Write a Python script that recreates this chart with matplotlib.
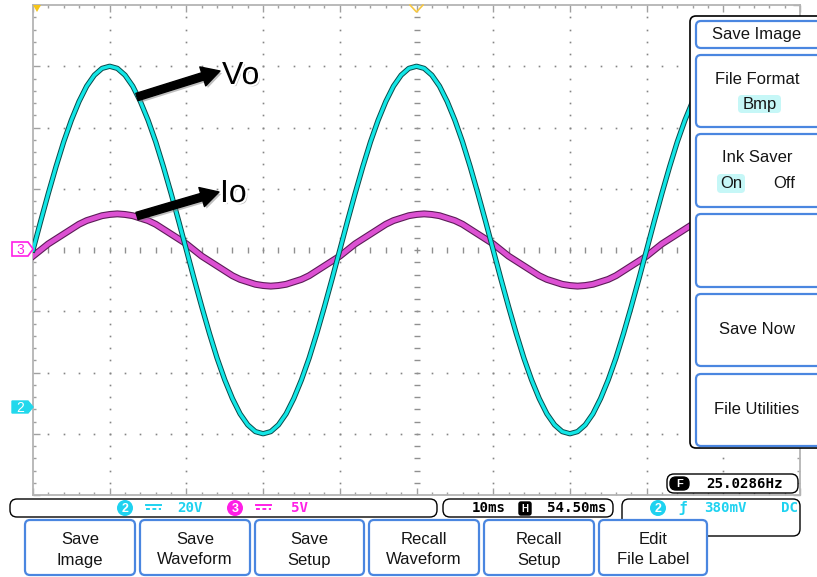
import numpy as np
import matplotlib
matplotlib.use("Agg")
import matplotlib.pyplot as plt
from matplotlib.patches import FancyBboxPatch, Polygon, Circle
import matplotlib.patheffects as pe

plt.rcParams['font.family'] = ['Liberation Sans', 'DejaVu Sans']

# scope settings
time_per_div = 10      # ms
ch2_per_div = 20       # V
ch3_per_div = 5        # V
freq_label = "25.0286Hz"
delay_label = "54.50ms"
trig_label = "380mV"

# samples, every 1 ms
t_ms = list(range(0, 101))
vo = [0, 9.4, 18.5, 27.2, 35.3, 42.4, 48.5, 53.5, 57.1, 59.3,
      60, 59.3, 57.1, 53.5, 48.5, 42.4, 35.3, 27.2, 18.5, 9.4,
      0, -9.4, -18.5, -27.2, -35.3, -42.4, -48.5, -53.5, -57.1, -59.3,
      -60, -59.3, -57.1, -53.5, -48.5, -42.4, -35.3, -27.2, -18.5, -9.4,
      0, 9.4, 18.5, 27.2, 35.3, 42.4, 48.5, 53.5, 57.1, 59.3,
      60, 59.3, 57.1, 53.5, 48.5, 42.4, 35.3, 27.2, 18.5, 9.4,
      0, -9.4, -18.5, -27.2, -35.3, -42.4, -48.5, -53.5, -57.1, -59.3,
      -60, -59.3, -57.1, -53.5, -48.5, -42.4, -35.3, -27.2, -18.5, -9.4,
      0, 9.4, 18.5, 27.2, 35.3, 42.4, 48.5, 53.5, 57.1, 59.3,
      60, 59.3, 57.1, 53.5, 48.5, 42.4, 35.3, 27.2, 18.5, 9.4,
      0]
io = [-0.5, 0, 0.5, 0.9, 1.3, 1.7, 2.1, 2.4, 2.6, 2.8,
      2.9, 2.95, 2.9, 2.8, 2.6, 2.4, 2.1, 1.7, 1.3, 0.9,
      0.5, 0, -0.5, -0.9, -1.3, -1.7, -2.1, -2.4, -2.6, -2.8,
      -2.9, -2.95, -2.9, -2.8, -2.6, -2.4, -2.1, -1.7, -1.3, -0.9,
      -0.5, 0, 0.5, 0.9, 1.3, 1.7, 2.1, 2.4, 2.6, 2.8,
      2.9, 2.95, 2.9, 2.8, 2.6, 2.4, 2.1, 1.7, 1.3, 0.9,
      0.5, 0, -0.5, -0.9, -1.3, -1.7, -2.1, -2.4, -2.6, -2.8,
      -2.9, -2.95, -2.9, -2.8, -2.6, -2.4, -2.1, -1.7, -1.3, -0.9,
      -0.5, 0, 0.5, 0.9, 1.3, 1.7, 2.1, 2.4, 2.6, 2.8,
      2.9, 2.95, 2.9, 2.8, 2.6, 2.4, 2.1, 1.7, 1.3, 0.9,
      0.5]

side_menu = ["Save Image", "File Format", "Ink Saver", "", "Save Now", "File Utilities"]
bottom_buttons = [("Save", "Image"), ("Save", "Waveform"), ("Save", "Setup"),
                  ("Recall", "Waveform"), ("Recall", "Setup"), ("Edit", "File Label")]

CYAN = '#12e6e6'
CYAN_TXT = '#1ed2f0'
MAG = '#dc50d2'
MAG_TXT = '#ff1fe6'
BLUE = '#4a86e0'
TXT = '#151515'

W, H = 817, 577
fig = plt.figure(figsize=(W / 100, H / 100), dpi=100)

# ---- scope screen ----
ax = fig.add_axes([33 / W, 1 - 495 / H, 767 / W, 490 / H])
ax.set_xlim(0, 10 * time_per_div)
ax.set_ylim(-4, 4)
for s in ax.spines.values():
    s.set_color('#b4b4b4')
    s.set_linewidth(1.3)
ax.set_xticks(np.arange(0, 101, 10))
ax.set_xticks(np.arange(0, 101, 2), minor=True)
ax.set_yticks(np.arange(-4, 4.1, 1))
ax.set_yticks(np.arange(-4, 4.01, 0.2), minor=True)
ax.tick_params(which='both', direction='in', top=True, right=True,
               labelbottom=False, labelleft=False, color='#a0a0a0')
ax.tick_params(which='major', length=5, width=1)
ax.tick_params(which='minor', length=2.5, width=1)

# dotted graticule
gx, gy = [], []
for xv in range(10, 100, 10):
    if xv == 50:
        continue
    for yv in np.arange(-3.8, 3.9, 0.2):
        gx.append(xv); gy.append(yv)
for yv in range(-3, 4):
    if yv == 0:
        continue
    for xv in range(2, 100, 2):
        gx.append(xv); gy.append(yv)
ax.plot(gx, gy, ls='none', marker='s', ms=1.2, color='#858585', mec='none', zorder=1)
# center cross
cy = np.arange(-3.8, 3.9, 0.2)
ax.plot(np.full(len(cy), 50), cy, ls='none', marker='_', ms=4, mew=1, color='#909090', zorder=1)
cx = np.arange(2, 100, 2)
ax.plot(cx, np.zeros(len(cx)), ls='none', marker='|', ms=4, mew=1, color='#909090', zorder=1)

io_div = np.array(io) / ch3_per_div
vo_div = np.array(vo) / ch2_per_div
ax.plot(t_ms, io_div, color='#5c1c58', lw=5.0, zorder=3)
ax.plot(t_ms, io_div, color=MAG, lw=3.4, zorder=3)
ax.plot(t_ms, vo_div, color='#0a4a4a', lw=3.8, zorder=4)
ax.plot(t_ms, vo_div, color=CYAN, lw=2.4, zorder=4)

# ---- overlay in pixel coordinates ----
ov = fig.add_axes([0, 0, 1, 1])
ov.set_xlim(0, W)
ov.set_ylim(H, 0)
ov.axis('off')
ov.set_zorder(3)


def rbox(x0, y0, x1, y1, ec='black', fc='white', lw=1.0, r=5, z=2):
    p = FancyBboxPatch((x0, y0), x1 - x0, y1 - y0,
                       boxstyle=f"round,pad=0,rounding_size={r}",
                       ec=ec, fc=fc, lw=lw, zorder=z)
    ov.add_patch(p)
    return p


# trigger markers
ov.add_patch(Polygon([(33, 5), (41, 5), (37, 12)], closed=True, fc='#f5c518', ec='none', zorder=3))
ov.plot([410, 416.5, 423], [5, 12, 5], color='#f7c842', lw=1.2, zorder=3)

# channel markers
ov.add_patch(Polygon([(12, 242), (28, 242), (33, 249), (28, 256), (12, 256)], closed=True,
                     fc='white', ec=MAG_TXT, lw=1.2, zorder=3))
ov.text(20, 249.5, "3", color=MAG_TXT, fontsize=10, ha='center', va='center', zorder=4)
ov.add_patch(Polygon([(12, 401), (28, 401), (33, 407), (28, 413), (12, 413)], closed=True,
                     fc='#22d8ec', ec='#22d8ec', lw=1, zorder=3))
ov.text(20, 407.5, "2", color='white', fontsize=10, ha='center', va='center', zorder=4)

# annotations
shadow = [pe.SimplePatchShadow(offset=(1.5, -1.5), shadow_rgbFace='#808080', alpha=0.5),
          pe.withStroke(linewidth=3, foreground='white')]
arrow_fx = [pe.SimplePatchShadow(offset=(1.5, -1.5), shadow_rgbFace='#808080', alpha=0.5), pe.Normal()]
for (x0, y0), (x1, y1) in [((137, 97), (220, 71)), ((137, 216), (219, 192))]:
    ov.annotate('', xy=(x1, y1), xytext=(x0, y0),
                arrowprops=dict(arrowstyle='simple,head_length=1.0,head_width=1.1,tail_width=0.42',
                                fc='black', ec='black', mutation_scale=13,
                                shrinkA=0, shrinkB=0, path_effects=arrow_fx), zorder=5)
ov.text(222, 76, "Vo", fontsize=23, color='black', ha='left', va='center', path_effects=shadow, zorder=6)
ov.text(220, 194, "Io", fontsize=23, color='black', ha='left', va='center', path_effects=shadow, zorder=6)

# side menu
rbox(690, 16, 840, 448, ec='black', lw=1.2, r=6)
side_y = [(21, 48), (55, 127), (134, 207), (214, 287), (294, 366), (374, 446)]
for label, (y0, y1) in zip(side_menu, side_y):
    rbox(696, y0, 840, y1, ec=BLUE, lw=1.6, r=5, z=3)
    if label in ("File Format", "Ink Saver"):
        ov.text(757, y0 + 24, label, fontsize=12, color=TXT, ha='center', va='center', zorder=4)
    elif label:
        ov.text(757, (y0 + y1) / 2, label, fontsize=12, color=TXT, ha='center', va='center', zorder=4)
rbox(738, 95, 781, 113, ec='none', fc='#c6f7f7', r=4, z=3)
ov.text(760, 104, "Bmp", fontsize=12, color=TXT, ha='center', va='center', zorder=4)
rbox(717, 174, 745, 193, ec='none', fc='#c6f7f7', r=4, z=3)
ov.text(731, 184, "On", fontsize=12, color=TXT, ha='center', va='center', zorder=4)
ov.text(784, 184, "Off", fontsize=12, color=TXT, ha='center', va='center', zorder=4)

# status bar
mono = dict(family='DejaVu Sans Mono', fontsize=10.2, fontweight='bold', va='center', zorder=4)


def circ_num(x, y, n, color):
    ov.add_patch(Circle((x, y), 8, fc=color, ec='none', zorder=3))
    ov.text(x, y + 0.5, n, color='white', fontsize=9, fontweight='bold', ha='center', va='center', zorder=4)


def dc_sym(x, y, color):
    ov.plot([x, x + 15], [y - 2, y - 2], color=color, lw=1.4, zorder=3)
    ov.plot([x, x + 15], [y + 2, y + 2], color=color, lw=1.4, ls=(0, (2, 1.3)), zorder=3)


rbox(10, 499, 437, 517, r=7)
circ_num(125, 508, "2", CYAN_TXT)
dc_sym(146, 507, CYAN_TXT)
ov.text(190, 508, f"{ch2_per_div}V", color=CYAN_TXT, ha='center', **mono)
circ_num(235, 508, "3", MAG_TXT)
dc_sym(256, 507, MAG_TXT)
ov.text(300, 508, f"{ch3_per_div}V", color=MAG_TXT, ha='center', **mono)

rbox(443, 499, 613, 517, r=7)
ov.text(489, 508, f"{time_per_div}ms", color='black', ha='center', **mono)
rbox(519, 502, 531, 515, ec='black', fc='black', r=2, z=3)
ov.text(525, 508.5, "H", color='white', fontsize=7, fontweight='bold', ha='center', va='center', zorder=4)
ov.text(577, 508, delay_label, color='black', ha='center', **mono)

rbox(622, 499, 800, 536, r=7)
circ_num(658, 508, "2", CYAN_TXT)
ov.text(683, 508, "ƒ", color=CYAN_TXT, ha='center', **mono)
ov.text(725, 508, trig_label, color=CYAN_TXT, ha='center', **mono)
ov.text(790, 508, "DC", color=CYAN_TXT, ha='center', **mono)

rbox(667, 474, 798, 493, r=7)
rbox(670, 477, 689, 490, ec='black', fc='black', r=6, z=3)
ov.text(679.5, 483.8, "F", color='white', fontsize=8, fontweight='bold', ha='center', va='center', zorder=4)
ov.text(745, 483.5, freq_label, color='black', ha='center', **mono)

# bottom soft keys
bx = [(25, 135), (140, 250), (255, 364), (369, 479), (484, 594), (599, 707)]
for (l1, l2), (x0, x1) in zip(bottom_buttons, bx):
    rbox(x0, 520, x1, 575, ec=BLUE, lw=1.6, r=5, z=3)
    xc = (x0 + x1) / 2
    ov.text(xc, 539, l1, fontsize=12, color=TXT, ha='center', va='center', zorder=4)
    ov.text(xc, 560, l2, fontsize=12, color=TXT, ha='center', va='center', zorder=4)

fig.savefig("out.png", dpi=100)
